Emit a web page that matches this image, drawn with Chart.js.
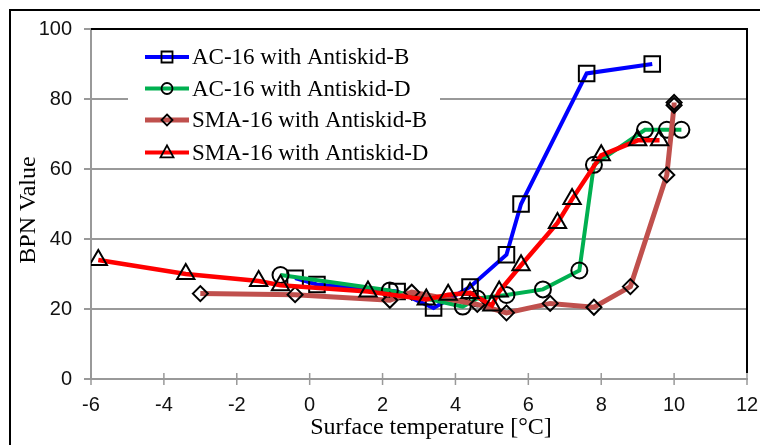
<!DOCTYPE html>
<html>
<head>
<meta charset="utf-8">
<title>BPN Value vs Surface temperature</title>
<script src="https://cdn.jsdelivr.net/npm/chart.js@4.4.0/dist/chart.umd.min.js"></script>
<style>
  html, body { margin: 0; padding: 0; background: #fff; }
  #chart { display: block; }
</style>
</head>
<body>
<canvas id="chart" width="760" height="445"></canvas>
<script>
// Series names
var seriesNames = ['AC-16 with Antiskid-B', 'AC-16 with Antiskid-D', 'SMA-16 with Antiskid-B', 'SMA-16 with Antiskid-D'];

// AC-16 with Antiskid-B
var acB_x = [-0.4, 0.2, 2.4, 3.4, 4.4, 5.4, 5.8, 7.6, 9.4];
var acB_y = [28.8, 27, 25, 20.3, 26.3, 35.5, 50, 87.3, 90];

// AC-16 with Antiskid-D
var acD_x = [-0.8, 2.2, 4.2, 4.6, 5.4, 6.4, 7.4, 7.8, 9.2, 9.8, 10.2];
var acD_y = [29.7, 25.3, 20.7, 23, 24, 25.6, 31, 61.2, 71.2, 71.2, 71.2];

// SMA-16 with Antiskid-B
var smaB_x = [-3, -0.4, 2.2, 2.8, 4.6, 5.4, 6.6, 7.8, 8.8, 9.8, 10, 10];
var smaB_y = [24.4, 24.1, 22.5, 24.8, 21.3, 18.9, 21.6, 20.5, 26.4, 58.3, 78.2, 79];

// SMA-16 with Antiskid-D
var smaD_x = [-5.8, -3.4, -1.4, -0.8, 1.6, 3.2, 3.8, 4.4, 5.0, 5.2, 5.8, 6.8, 7.2, 8.0, 9.0, 9.6];
var smaD_y = [34, 30, 28, 26.8, 25, 22.7, 24.1, 24.6, 21, 25, 32.5, 44.6, 51.4, 63.9, 68.2, 68.2];

// Axis ticks and titles
var xTicks = [-6, -4, -2, 0, 2, 4, 6, 8, 10, 12];
var yTicks = [0, 20, 40, 60, 80, 100];
var xTitle = 'Surface temperature [°C]';
var yTitle = 'BPN Value';

var colors = ['#0000ff', '#00b050', '#c0504d', '#ff0000'];
var markers = ['rect', 'circle', 'rectRot', 'triangle'];

function toPoints(xs, ys) {
    return xs.map(function (x, i) { return { x: x, y: ys[i] }; });
}

function makeSet(i, xs, ys, radius, width) {
    return {
        label: seriesNames[i],
        data: toPoints(xs, ys),
        borderColor: colors[i],
        borderWidth: width,
        pointStyle: markers[i],
        pointRadius: radius,
        pointBorderColor: '#000',
        pointBackgroundColor: 'rgba(0,0,0,0)',
        pointBorderWidth: 2,
        tension: 0,
        fill: false,
        order: 3 - i
    };
}

// draw a small marker for the legend
function drawMarker(ctx, style, x, y, r) {
    ctx.beginPath();
    if (style === 'rect') {
        ctx.rect(x - r, y - r, 2 * r, 2 * r);
    } else if (style === 'circle') {
        ctx.arc(x, y, r, 0, Math.PI * 2);
    } else if (style === 'rectRot') {
        ctx.moveTo(x, y - r); ctx.lineTo(x + r, y); ctx.lineTo(x, y + r); ctx.lineTo(x - r, y); ctx.closePath();
    } else {
        ctx.moveTo(x, y - r * 1.1); ctx.lineTo(x + r, y + r * 0.75); ctx.lineTo(x - r, y + r * 0.75); ctx.closePath();
    }
    ctx.stroke();
}

// frame, black top/right border of the plot, crossing x ticks, axis titles
var framePlugin = {
    id: 'frame',
    beforeDatasetsDraw: function (chart) {
        var ctx = chart.ctx, a = chart.chartArea;
        ctx.save();
        ctx.strokeStyle = '#000';
        ctx.lineWidth = 2;
        ctx.beginPath();
        ctx.moveTo(a.left, a.top);
        ctx.lineTo(a.right, a.top);
        ctx.lineTo(a.right, a.bottom - 6);
        ctx.stroke();
        // x tick marks crossing the axis
        var xs = chart.scales.x;
        ctx.strokeStyle = '#999';
        ctx.lineWidth = 1.5;
        xTicks.forEach(function (t) {
            var px = xs.getPixelForValue(t);
            ctx.beginPath();
            ctx.moveTo(px, a.bottom - 6);
            ctx.lineTo(px, a.bottom + 6);
            ctx.stroke();
        });
        ctx.restore();
    },
    afterDraw: function (chart) {
        var ctx = chart.ctx;
        ctx.save();
        ctx.strokeStyle = '#000';
        ctx.lineWidth = 2;
        ctx.beginPath();
        ctx.moveTo(10, 445);
        ctx.lineTo(10, 10);
        ctx.lineTo(760, 10);
        ctx.stroke();
        // axis titles
        ctx.fillStyle = '#000';
        ctx.font = '24px "Liberation Serif"';
        ctx.textAlign = 'center';
        ctx.textBaseline = 'middle';
        ctx.fillText(xTitle, 431, 428);
        ctx.translate(29, 210);
        ctx.rotate(-Math.PI / 2);
        ctx.fillText(yTitle, 0, 0);
        ctx.restore();
    }
};

// legend box inside the plot
var legendPlugin = {
    id: 'boxLegend',
    afterDatasetsDraw: function (chart) {
        var ctx = chart.ctx;
        var rows = [57, 88.5, 120, 152.5];
        var sizes = [5.5, 5.5, 5.5, 6.5];
        ctx.save();
        ctx.fillStyle = '#fff';
        ctx.fillRect(128, 36, 312, 131);
        ctx.font = '23px "Liberation Serif"';
        ctx.textBaseline = 'middle';
        for (var i = 0; i < 4; i++) {
            ctx.strokeStyle = colors[i];
            ctx.lineWidth = i === 2 ? 5 : 4;
            ctx.beginPath();
            ctx.moveTo(145, rows[i]);
            ctx.lineTo(189, rows[i]);
            ctx.stroke();
            ctx.strokeStyle = '#000';
            ctx.lineWidth = 1.8;
            drawMarker(ctx, markers[i], 167, rows[i], sizes[i]);
            ctx.fillStyle = '#000';
            ctx.fillText(seriesNames[i], 192, rows[i] + 1);
        }
        ctx.restore();
    }
};

var ctx = document.getElementById('chart').getContext('2d');
var myChart = new Chart(ctx, {
    type: 'line',
    data: {
        datasets: [
            makeSet(0, acB_x, acB_y, 11, 4),
            makeSet(1, acD_x, acD_y, 8, 4),
            makeSet(2, smaB_x, smaB_y, 7.5, 5),
            makeSet(3, smaD_x, smaD_y, 10, 4.5)
        ]
    },
    options: {
        responsive: false,
        animation: false,
        devicePixelRatio: 1,
        layout: { padding: { top: 29, right: 13, left: 0, bottom: 0 } },
        plugins: {
            legend: { display: false },
            tooltip: { enabled: false }
        },
        scales: {
            x: {
                type: 'linear',
                min: -6,
                max: 12,
                afterFit: function (scale) {
                    scale.height = 66;
                    scale.paddingLeft = 0;
                    scale.paddingRight = 0;
                },
                afterBuildTicks: function (scale) {
                    scale.ticks = xTicks.map(function (v) { return { value: v }; });
                },
                grid: { drawOnChartArea: false, drawTicks: false },
                border: { color: '#999', width: 2 },
                ticks: {
                    padding: 14,
                    color: '#111',
                    font: { family: '"Liberation Sans"', size: 20 }
                }
            },
            y: {
                min: 0,
                max: 100,
                afterFit: function (scale) {
                    scale.width = 91;
                    scale.paddingTop = 0;
                    scale.paddingBottom = 0;
                },
                afterBuildTicks: function (scale) {
                    scale.ticks = yTicks.map(function (v) { return { value: v }; });
                },
                grid: { color: '#999', lineWidth: 2, tickLength: 7 },
                border: { color: '#999', width: 2 },
                ticks: {
                    padding: 12,
                    color: '#111',
                    font: { family: '"Liberation Sans"', size: 20 }
                }
            }
        }
    },
    plugins: [framePlugin, legendPlugin]
});
</script>
</body>
</html>
